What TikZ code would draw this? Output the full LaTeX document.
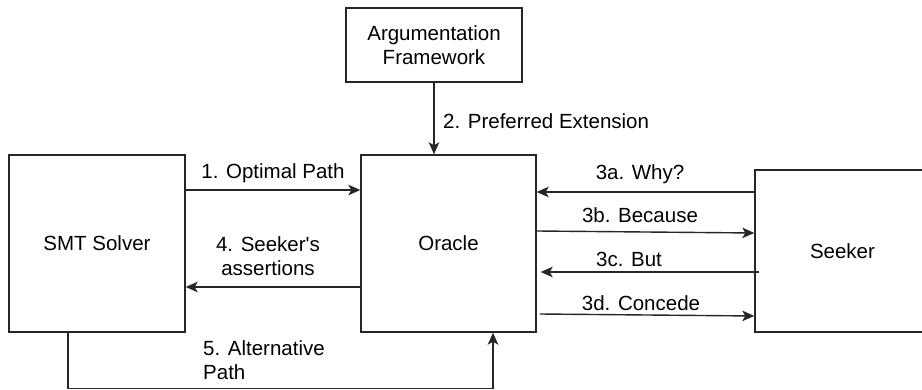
\documentclass[tikz,border=0pt]{standalone}
\usepackage{fontspec}
\setmainfont{Liberation Sans}[Ligatures=TeXOff]
\usetikzlibrary{arrows.meta}
\begin{document}
\begin{tikzpicture}[x=1pt,y=-1pt,
  every node/.style={font=\fontsize{20.5}{24}\selectfont, text=black},
  box/.style={draw=black!85, line width=1.4pt, inner sep=0pt, align=center},
  lbl/.style={inner sep=0pt, anchor=base},
  conn/.style={draw=black!85, line width=1.4pt, -{Stealth[length=12pt,width=10.5pt,inset=3pt]}},
  plain/.style={draw=black!85, line width=1.4pt}]
\useasboundingbox (0,0) rectangle (922,390);
\begin{scope}
\clip (0,0) rectangle (922,390);
% boxes
\node[box, minimum width=176pt, minimum height=177pt] (smt) at (97,243.5) {SMT Solver};
\node[box, minimum width=175pt, minimum height=177pt] (oracle) at (448.5,243.5) {Oracle};
\node[box, minimum width=175pt, minimum height=162pt] (seeker) at (842.5,251) {\raisebox{-8pt}{Seeker}};
\node[box, minimum width=176pt, minimum height=74pt] (af) at (434,45) {Argumentation\\Framework};
\end{scope}
% connectors
\draw[conn] (af.south) -- (af.south |- oracle.north);
\draw[conn] ([yshift=53.5pt]smt.east) -- ([yshift=53.5pt]oracle.west);
\draw[conn] ([yshift=-43.5pt]oracle.west) -- ([yshift=-43.5pt]smt.east);
\draw[conn] ([xshift=-29pt]smt.south) -- ++(0,56) -| ([xshift=44.5pt]oracle.south);
\draw[conn] ([yshift=59pt]seeker.west) -- ([yshift=51.5pt]oracle.east);
\draw[conn] ([yshift=12.5pt]oracle.east) -- ([yshift=18pt]seeker.west);
\draw[conn] ([xshift=5pt,yshift=-21pt]seeker.west) -- ([xshift=4pt,yshift=-28.5pt]oracle.east);
\draw[conn] ([xshift=3pt,yshift=-70.5pt]oracle.east) -- ([yshift=-65pt]seeker.west);
% labels
\node[lbl, anchor=base west] (l2) at (443,128.5) {2. Preferred Extension};
\node[lbl] (l1) at (273,179) {1. Optimal Path};
\node[lbl, align=center] (l4) at (268,276) {4. Seeker's\\assertions};
\node[lbl, anchor=base west, align=left] (l5) at (203,379) {5. Alternative\\Path};
\node[lbl] (l3a) at (640,179.5) {3a. Why?};
\node[lbl] (l3b) at (640,223) {3b. Because};
\node[lbl] (l3c) at (629,267) {3c. But};
\node[lbl] (l3d) at (641,311) {3d. Concede};
\end{tikzpicture}
\end{document}
